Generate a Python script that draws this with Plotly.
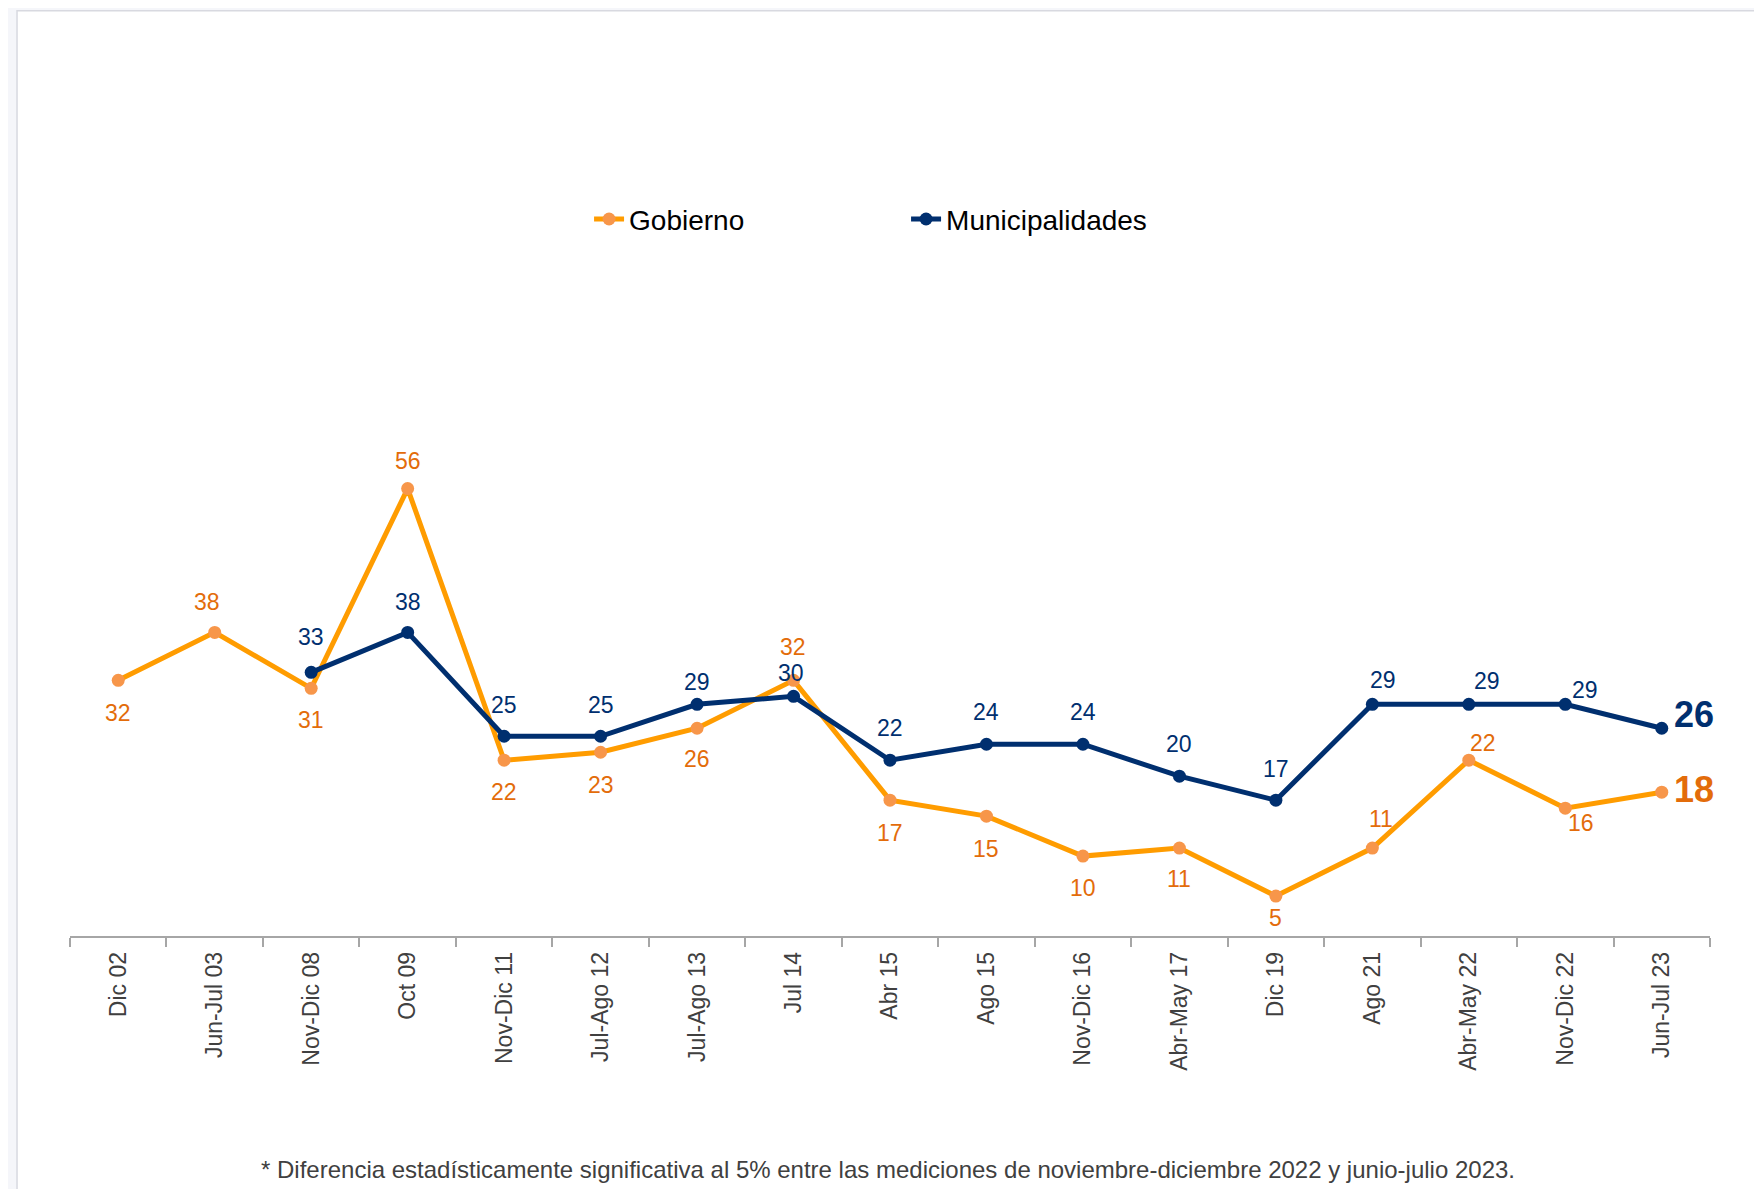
import plotly.graph_objects as go

# survey rounds
periods = [
    "Dic 02", "Jun-Jul 03", "Nov-Dic 08", "Oct 09", "Nov-Dic 11", "Jul-Ago 12",
    "Jul-Ago 13", "Jul 14", "Abr 15", "Ago 15", "Nov-Dic 16", "Abr-May 17",
    "Dic 19", "Ago 21", "Abr-May 22", "Nov-Dic 22", "Jun-Jul 23",
]
gobierno = [32, 38, 31, 56, 22, 23, 26, 32, 17, 15, 10, 11, 5, 11, 22, 16, 18]
municipalidades = [None, None, 33, 38, 25, 25, 29, 30, 22, 24, 24, 20, 17, 29, 29, 29, 26]

footnote = ("* Diferencia estadísticamente significativa al 5% entre las mediciones "
            "de noviembre-diciembre 2022 y junio-julio 2023.")

# label offsets (px) so the numbers sit like in the original
gob_shift = [
    (0, -33), (-8, 30), (0, -32), (0, 28), (0, -32), (0, -33), (0, -31), (-1, 33),
    (0, -33), (0, -33), (0, -32), (0, -31), (0, -22), (9, 29), (14, 17), (16, -15),
    (10, 3),
]
mun_shift = [
    None, None, (0, 35), (0, 30), (0, 31), (0, 31), (0, 22), (-3, 23),
    (0, 32), (0, 32), (0, 32), (0, 32), (0, 31), (11, 24), (18, 23), (20, 14),
    (10, 14),
]

ORANGE_LINE = "#FF9C00"
ORANGE_MARK = "#F7964A"
ORANGE_TEXT = "#E36C0A"
NAVY = "#002F6F"
FONT = "Liberation Sans"

fig = go.Figure()

fig.add_trace(
    go.Scatter(
        x=periods,
        y=gobierno,
        name="Gobierno",
        mode="lines+markers",
        line=dict(color=ORANGE_LINE, width=5),
        marker=dict(color=ORANGE_MARK, size=13),
        cliponaxis=False,
    )
)

fig.add_trace(
    go.Scatter(
        x=periods,
        y=municipalidades,
        name="Municipalidades",
        mode="lines+markers",
        line=dict(color=NAVY, width=5),
        marker=dict(color=NAVY, size=13),
        cliponaxis=False,
    )
)


def add_labels(values, shifts, color):
    last = len(values) - 1
    for i, v in enumerate(values):
        if v is None:
            continue
        dx, dy = shifts[i]
        end = i == last
        fig.add_annotation(
            x=periods[i], y=v, xref="x", yref="y",
            text="<b>%d</b>" % v if end else str(v),
            showarrow=False,
            xshift=dx, yshift=dy,
            xanchor="left" if end else "center",
            yanchor="middle",
            font=dict(size=36 if end else 23, color=color, family=FONT),
        )


add_labels(gobierno, gob_shift, ORANGE_TEXT)
add_labels(municipalidades, mun_shift, NAVY)

# white panel with thin border on light page
fig.add_shape(
    type="rect", xref="paper", yref="paper",
    x0=-0.0323, x1=1.2, y0=-0.4, y1=1.158,
    fillcolor="white", line=dict(color="#D8D9E0", width=1.5),
    layer="below",
)

fig.add_annotation(
    text=footnote, xref="paper", yref="paper",
    x=0.499, y=-0.292, xanchor="center", yanchor="middle",
    showarrow=False, font=dict(size=24, color="#404040", family=FONT),
)

fig.update_layout(
    width=1762,
    height=1189,
    margin=dict(l=62, r=60, t=129, b=261),
    paper_bgcolor="#F5F6FA",
    plot_bgcolor="white",
    font=dict(family=FONT, color="#404040"),
    showlegend=True,
    legend=dict(
        orientation="h",
        x=0.3165, y=0.897, xanchor="left", yanchor="middle",
        font=dict(size=28, color="black", family=FONT),
        entrywidth=272, entrywidthmode="pixels",
        bgcolor="rgba(0,0,0,0)",
    ),
)

fig.update_xaxes(
    type="category",
    range=[-0.5, len(periods) - 0.5],
    tickangle=-90,
    tickson="boundaries",
    ticks="outside",
    ticklen=9,
    tickcolor="#A6A6A6",
    tickwidth=1.5,
    ticklabelstandoff=5,
    showline=True,
    linecolor="#A6A6A6",
    linewidth=1.5,
    showgrid=False,
    tickfont=dict(size=23, color="#404040", family=FONT),
)

fig.update_yaxes(
    range=[0, 100],
    visible=False,
    showgrid=False,
    zeroline=False,
)

fig.write_html("out.html")
